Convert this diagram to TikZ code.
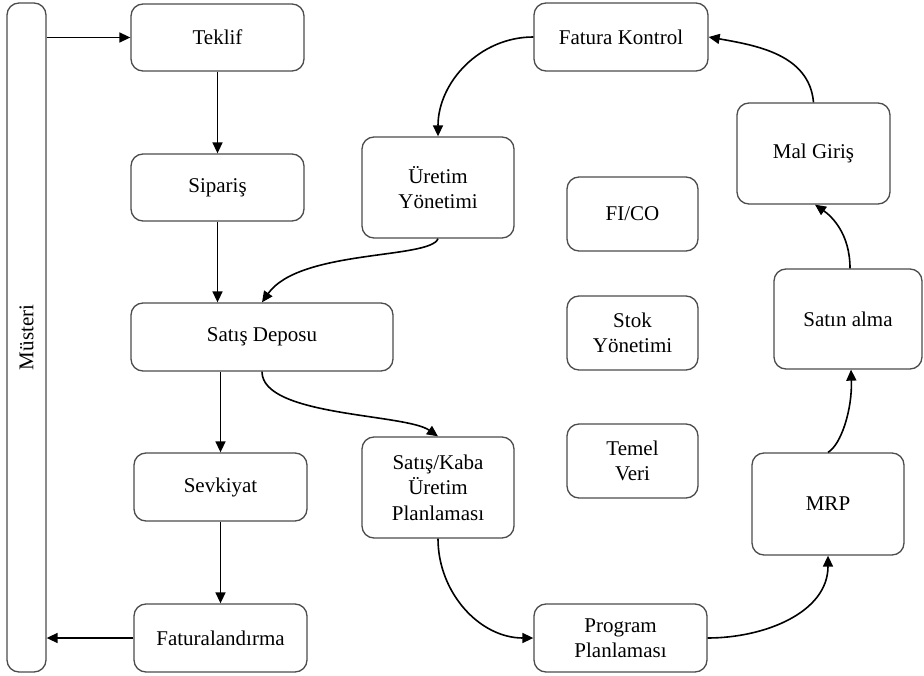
\documentclass[tikz,border=0pt]{standalone}
\usepackage{fontspec}
\setmainfont{Liberation Serif}
\usetikzlibrary{arrows.meta}
\begin{document}
\begin{tikzpicture}[x=1pt,y=1pt,
  box/.style={draw=black!70, line width=1.3pt, rounded corners=12pt, align=center,
              font=\fontsize{21}{25.5}\selectfont, inner sep=0pt},
  lbl/.style={font=\fontsize{21}{25.5}\selectfont, inner sep=0pt},
  arr/.style={line width=1.6pt, -{Triangle[length=11pt,width=10pt]}}]
\useasboundingbox (0,0) rectangle (924,-676);
% left column
\node[box, minimum width=39pt, minimum height=669pt] (bar) at (26.5,-337.5) {};
\node[lbl, rotate=90] (musteri) at (bar.center) {Müsteri};
\node[box, minimum width=173pt, minimum height=67pt] (teklif) at (217.5,-37.5) {Teklif};
\node[box, minimum width=173pt, minimum height=67pt] (siparis) at (217.5,-187.5) {Sipariş};
\node[box, minimum width=262pt, minimum height=68pt] (satis) at (262,-337) {Satış Deposu};
\node[box, minimum width=173pt, minimum height=68pt] (sevk) at (220.5,-487) {Sevkiyat};
\node[box, minimum width=173pt, minimum height=68pt] (fatura) at (220.5,-638) {Faturalandırma};
% middle
\node[box, minimum width=152pt, minimum height=101pt] (uretim) at (438,-187.5) {Üretim\\Yönetimi};
\node[box, minimum width=152pt, minimum height=101pt] (kaba) at (438,-487.5) {Satış/Kaba\\Üretim\\Planlaması};
\node[box, minimum width=131pt, minimum height=74pt] (fico) at (632.5,-214) {FI/CO};
\node[box, minimum width=131pt, minimum height=74pt] (stok) at (632.5,-333) {Stok\\Yönetimi};
\node[box, minimum width=131pt, minimum height=74pt] (temel) at (632.5,-461) {Temel\\Veri};
\node[box, minimum width=174pt, minimum height=68pt] (fkontrol) at (621,-37) {Fatura Kontrol};
\node[box, minimum width=173pt, minimum height=68pt] (program) at (620.5,-638) {Program\\Planlaması};
% right
\node[box, minimum width=153pt, minimum height=101pt] (malgiris) at (813.5,-153.5) {Mal Giriş};
\node[box, minimum width=148pt, minimum height=100pt] (satin) at (848,-319) {Satın alma};
\node[box, minimum width=152pt, minimum height=102pt] (mrp) at (828,-504) {MRP};
% straight arrows
\draw[arr] (bar.east |- teklif.west) -- (teklif.west);
\draw[arr] (teklif.south) -- (siparis.north);
\draw[arr] (siparis.south) -- (siparis.south |- satis.north);
\draw[arr] (sevk.north |- satis.south) -- (sevk.north);
\draw[arr] (sevk.south) -- (fatura.north);
\draw[arr] (fatura.west) -- (bar.east |- fatura.west);
% curved arrows
\draw[arr] (fkontrol.west) to[out=180, in=90] (uretim.north);
\draw[arr] (uretim.south) to[out=-110, in=55, out distance=22pt, in distance=65pt] (satis.north);
\draw[arr] (satis.south) to[out=-90, in=145, out distance=45pt, in distance=40pt] (kaba.north);
\draw[arr] (kaba.south) to[out=-90, in=180] (program.west);
\draw[arr] (program.east) to[out=0, in=-90] (mrp.south);
\draw[arr] (mrp.north) to[out=30, in=-88, out distance=15pt, in distance=40pt] ([xshift=3pt]satin.south);
\draw[arr] ([xshift=2pt]satin.north) to[out=90, in=-35, out distance=35pt, in distance=20pt] ([xshift=1.5pt]malgiris.south);
\draw[arr] (malgiris.north) to[out=95, in=-10] (fkontrol.east);
\end{tikzpicture}
\end{document}
